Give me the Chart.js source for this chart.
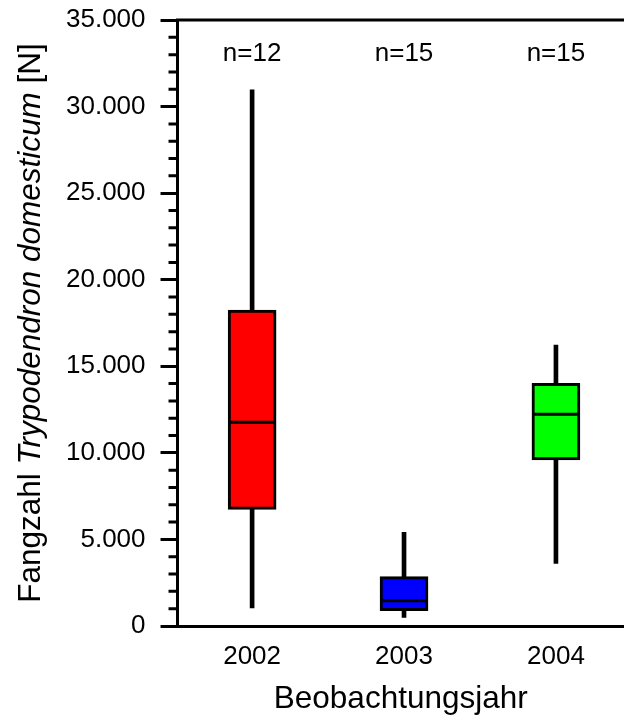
<!DOCTYPE html>
<html>
<head>
<meta charset="utf-8">
<script src="https://cdn.jsdelivr.net/npm/chart.js@4.4.1/dist/chart.umd.min.js"></script>
<style>
  html, body { margin: 0; padding: 0; background: #fff; }
  #wrap { width: 624px; height: 725px; }
</style>
</head>
<body>
<div id="wrap"><canvas id="boxChart"></canvas></div>
<script>
// Values
const years = [2002, 2003, 2004];
const sampleSizes = [12, 15, 15];
const whiskerLow = [1040, 500, 3620];
const whiskerHigh = [30960, 5410, 16230];
const q1 = [6740, 890, 9590];
const q3 = [18250, 2850, 14020];
const medians = [11770, 1460, 12230];
const boxColors = ['#ff0000', '#0000ff', '#00ff00'];

const yMin = 0;
const yMax = 35000;
const majorStep = 5000;
const minorStep = 1000;
const nLabelLevel = 33050;

Chart.defaults.font.family = '"Liberation Sans", Arial, Helvetica, sans-serif';
Chart.defaults.color = '#000';

// German thousands separator: 35000 -> 35.000
let formatThousands = (v) => String(v).replace(/\B(?=(\d{3})+(?!\d))/g, '.');

// the frame reaches the canvas edges, so drop the label overhang padding
let noOverhang = (scale) => {
    scale.paddingTop = 0;
    scale.paddingBottom = 0;
    scale.paddingLeft = 0;
    scale.paddingRight = 0;
};

// Minor ticks, top frame line, n= labels and the mixed-style y title
const extras = {
    id: 'extras',
    afterDraw(chart) {
        const {ctx, chartArea, scales} = chart;
        const xs = scales.x, ys = scales.y;
        ctx.save();
        ctx.strokeStyle = '#000';
        ctx.lineWidth = 3;
        ctx.lineCap = 'butt';

        // top frame line
        ctx.beginPath();
        ctx.moveTo(chartArea.left - 1.5, chartArea.top);
        ctx.lineTo(chartArea.right, chartArea.top);
        ctx.stroke();

        // minor ticks
        ctx.beginPath();
        for (let v = yMin; v <= yMax; v += minorStep) {
            if (v % majorStep === 0) continue;
            const py = ys.getPixelForValue(v);
            ctx.moveTo(chartArea.left - 9, py);
            ctx.lineTo(chartArea.left, py);
        }
        ctx.stroke();

        // sample sizes
        ctx.fillStyle = '#000';
        ctx.font = '26px "Liberation Sans", Arial, sans-serif';
        ctx.textAlign = 'center';
        ctx.textBaseline = 'middle';
        years.forEach((yr, i) => {
            ctx.fillText('n=' + sampleSizes[i], xs.getPixelForValue(yr), ys.getPixelForValue(nLabelLevel));
        });

        // y axis title with italic species name
        const parts = [
            ['Fangzahl ', ''],
            ['Trypodendron domesticum', 'italic '],
            [' [N]', ''],
        ];
        const size = 31.5;
        let total = 0;
        parts.forEach(p => {
            ctx.font = p[1] + size + 'px "Liberation Sans", Arial, sans-serif';
            total += ctx.measureText(p[0]).width;
        });
        ctx.translate(40, (chartArea.top + chartArea.bottom) / 2);
        ctx.rotate(-Math.PI / 2);
        ctx.textAlign = 'left';
        ctx.textBaseline = 'alphabetic';
        let cx = -total / 2;
        parts.forEach(p => {
            ctx.font = p[1] + size + 'px "Liberation Sans", Arial, sans-serif';
            ctx.fillText(p[0], cx, 0);
            cx += ctx.measureText(p[0]).width;
        });
        ctx.restore();
    }
};

let boxChart = new Chart(document.getElementById('boxChart').getContext('2d'), {
    type: 'bar',
    data: {
        datasets: [
            {
                // medians
                type: 'line',
                data: years.map((yr, i) => ({x: yr, y: medians[i]})),
                showLine: false,
                pointStyle: 'line',
                pointRadius: 23.5,
                pointHoverRadius: 23.5,
                pointBorderWidth: 3,
                pointBorderColor: '#000',
                order: 0,
            },
            {
                // boxes Q1..Q3
                data: years.map((yr, i) => ({x: yr, y: [q1[i], q3[i]]})),
                backgroundColor: boxColors,
                borderColor: '#000',
                borderWidth: 3,
                borderSkipped: false,
                barThickness: 48,
                grouped: false,
                order: 1,
            },
            {
                // whiskers
                data: years.map((yr, i) => ({x: yr, y: [whiskerLow[i], whiskerHigh[i]]})),
                backgroundColor: '#000',
                borderWidth: 0,
                barThickness: 4,
                grouped: false,
                order: 2,
            },
        ]
    },
    options: {
        maintainAspectRatio: false,
        responsive: true,
        animation: false,
        layout: {
            autoPadding: false,
            padding: {left: 51, top: 20, right: 0, bottom: 0}
        },
        plugins: {
            legend: {display: false},
            tooltip: {enabled: false},
        },
        scales: {
            x: {
                type: 'linear',
                offset: false,
                min: 2001.509,
                max: 2004.448,
                afterBuildTicks: (scale) => {
                    scale.ticks = years.map(v => ({value: v}));
                },
                afterFit: noOverhang,
                grid: {display: false, drawTicks: false, offset: false},
                border: {display: true, color: '#000', width: 3},
                ticks: {
                    padding: 15,
                    font: {size: 26},
                    color: '#000',
                    callback: (v) => String(v),
                },
                title: {
                    display: true,
                    text: 'Beobachtungsjahr',
                    font: {size: 31.5},
                    color: '#000',
                    padding: {top: -7, bottom: 7},
                }
            },
            y: {
                min: yMin,
                max: yMax,
                afterFit: noOverhang,
                grid: {
                    drawOnChartArea: false,
                    drawTicks: true,
                    tickLength: 17,
                    tickWidth: 3,
                    tickColor: '#000',
                },
                border: {display: true, color: '#000', width: 3},
                ticks: {
                    stepSize: majorStep,
                    padding: 15,
                    font: {size: 26},
                    color: '#000',
                    callback: (v) => formatThousands(v),
                }
            }
        }
    },
    plugins: [extras]
});
</script>
</body>
</html>
